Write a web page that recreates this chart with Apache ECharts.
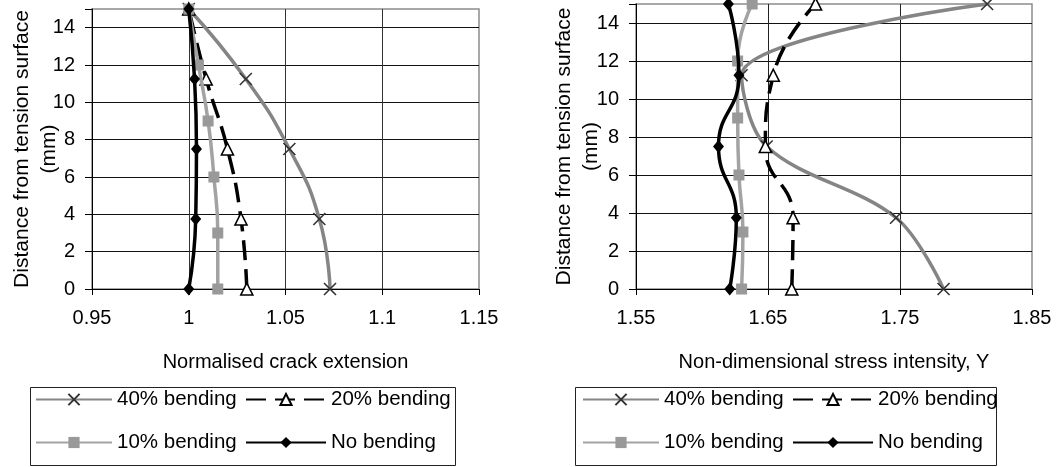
<!DOCTYPE html>
<html>
<head>
<meta charset="utf-8">
<script src="https://cdn.jsdelivr.net/npm/echarts@6/dist/echarts.min.js"></script>
<style>
html,body{margin:0;padding:0;background:#fff;}
#c{width:1059px;height:467px;}
</style>
</head>
<body>
<div id="c"></div>
<script>
// ---- data ----
const seriesNames = ['40% bending', '20% bending', '10% bending', 'No bending'];
// distances (mm)
const yQuarter = [0, 3.75, 7.5, 11.25, 15];
const yThird = [0, 3, 6, 9, 12, 15];
// left chart: normalised crack extension
const crack40 = [1.073, 1.0675, 1.052, 1.0295, 1.000];
const crack20 = [1.030, 1.027, 1.020, 1.009, 1.000];
const crack10 = [1.015, 1.015, 1.013, 1.010, 1.005, 1.000];
const crack0 = [1.000, 1.0036, 1.004, 1.003, 1.000];
// right chart: non-dimensional stress intensity Y
const sif40 = [1.783, 1.747, 1.649, 1.630, 1.816];
const sif20 = [1.668, 1.669, 1.648, 1.654, 1.686];
const sif10 = [1.630, 1.631, 1.628, 1.627, 1.627, 1.638];
const sif0 = [1.621, 1.626, 1.6125, 1.628, 1.620];
// axis ticks
const leftXTicks = { min: 0.95, max: 1.15, interval: 0.05 };
const rightXTicks = { min: 1.55, max: 1.85, interval: 0.1 };
const yTicks = { min: 0, max: 15, interval: 2 };

// ---- build ----
const FONT = 'Liberation Sans, Arial, sans-serif';
function pairs(xs, ys) { return xs.map((x, i) => [x, ys[i]]); }

const styles = [
  { color: '#858585', symbol: 'path://M0,0L10,10M10,0L0,10', symbolSize: 12,
    itemStyle: { color: 'none', borderColor: '#333', borderWidth: 1.6 },
    lineStyle: { color: '#858585', width: 3.5, type: 'solid' } },
  { color: '#000', symbol: 'triangle', symbolSize: 12,
    itemStyle: { color: '#fff', borderColor: '#000', borderWidth: 1.6 },
    lineStyle: { color: '#000', width: 3.5, type: [20, 9] } },
  { color: '#a3a3a3', symbol: 'rect', symbolSize: 11,
    itemStyle: { color: '#999', borderColor: '#999', borderWidth: 0 },
    lineStyle: { color: '#a3a3a3', width: 3.5, type: 'solid' } },
  { color: '#000', symbol: 'diamond', symbolSize: [11, 13],
    itemStyle: { color: '#000', borderColor: '#000', borderWidth: 0 },
    lineStyle: { color: '#000', width: 3.5, type: 'solid' } }
];

const leftData = [pairs(crack40, yQuarter), pairs(crack20, yQuarter), pairs(crack10, yThird), pairs(crack0, yQuarter)];
const rightData = [pairs(sif40, yQuarter), pairs(sif20, yQuarter), pairs(sif10, yThird), pairs(sif0, yQuarter)];

function makeSeries(dataSets, idx, smooths) {
  return dataSets.map((d, i) => ({
    type: 'line', name: seriesNames[i], xAxisIndex: idx, yAxisIndex: idx,
    data: d, smooth: smooths[i], showSymbol: true, symbolKeepAspect: false,
    z: 2 + i, animation: false,
    symbol: styles[i].symbol, symbolSize: styles[i].symbolSize,
    itemStyle: styles[i].itemStyle, lineStyle: styles[i].lineStyle, color: styles[i].color
  }));
}

function xAxis(idx, t, name, splitColors) {
  return {
    type: 'value', gridIndex: idx, min: t.min, max: t.max, interval: t.interval,
    name: name, nameLocation: 'middle', nameGap: 63, nameMoveOverlap: false,
    nameTextStyle: { fontFamily: FONT, fontSize: 20, color: '#000' },
    axisLine: { show: true, onZero: false, lineStyle: { color: '#000', width: 1 } },
    axisTick: { show: true, length: 6, lineStyle: { color: '#000' } },
    axisLabel: { fontFamily: FONT, fontSize: 20, color: '#000', margin: 19,
      formatter: v => String(+v.toFixed(3)) },
    splitLine: { show: true, lineStyle: { color: splitColors, width: 1 } }
  };
}
function yAxis(idx, nameGap) {
  return {
    type: 'value', gridIndex: idx, min: yTicks.min, max: yTicks.max, interval: yTicks.interval,
    name: 'Distance from tension surface\n(mm)', nameLocation: 'middle', nameGap: nameGap, nameRotate: 90,
    nameMoveOverlap: false,
    nameTextStyle: { fontFamily: FONT, fontSize: 21, color: '#000', lineHeight: 27 },
    axisLine: { show: true, onZero: false, lineStyle: { color: '#000', width: 1 } },
    axisTick: { show: true, length: 7, lineStyle: { color: '#000' } },
    axisLabel: { fontFamily: FONT, fontSize: 20, color: '#000', margin: 17,
      formatter: v => (v === 15 ? '' : String(v)) },
    splitLine: { show: true, lineStyle: { color: ['transparent', '#111', '#111', '#111', '#111', '#111', '#111', '#111', 'transparent'], width: 1 } }
  };
}

function legend(name, left, top, w) {
  return {
    data: [name], left: left, top: top, padding: 0, itemWidth: w, itemHeight: 14, itemGap: 0,
    selectedMode: false, textStyle: { fontFamily: FONT, fontSize: 20.5, color: '#000' },
    backgroundColor: 'transparent'
  };
}
const legends = [];
[0, 547].forEach(dx => {
  legends.push(legend(seriesNames[0], 35 + dx, 389, 76));
  legends.push(legend(seriesNames[1], 245 + dx, 389, 80));
  legends.push(legend(seriesNames[2], 35 + dx, 432, 76));
  legends.push(legend(seriesNames[3], 245 + dx, 432, 80));
});

const option = {
  animation: false,
  backgroundColor: '#fff',
  textStyle: { fontFamily: FONT },
  grid: [
    { left: 92, top: 9, width: 387, height: 280, show: true, borderColor: '#8c8c8c', borderWidth: 1.5, backgroundColor: 'transparent', containLabel: false, outerBoundsMode: 'none' },
    { left: 636, top: 4, width: 396, height: 285, show: true, borderColor: '#8c8c8c', borderWidth: 1.5, backgroundColor: 'transparent', containLabel: false, outerBoundsMode: 'none' }
  ],
  xAxis: [
    xAxis(0, leftXTicks, 'Normalised crack extension', ['transparent', '#333', '#333', '#333', 'transparent']),
    xAxis(1, rightXTicks, 'Non-dimensional stress intensity, Y', ['transparent', '#222', '#222', 'transparent'])
  ],
  yAxis: [yAxis(0, 29), yAxis(1, 31)],
  legend: legends,
  graphic: [
    { type: 'rect', left: 30, top: 387, shape: { width: 425, height: 78 }, style: { fill: '#fff', stroke: '#222', lineWidth: 1 }, z: -1 },
    { type: 'rect', left: 575, top: 387, shape: { width: 421, height: 78 }, style: { fill: '#fff', stroke: '#222', lineWidth: 1 }, z: -1 }
  ],
  series: makeSeries(leftData, 0, [0.5, 0.5, 0.5, 0.5]).concat(makeSeries(rightData, 1, [0.35, 0.5, 0.5, 0.5]))
};

const chart = echarts.init(document.getElementById('c'), null, { renderer: 'canvas' });
chart.setOption(option);
</script>
</body>
</html>
